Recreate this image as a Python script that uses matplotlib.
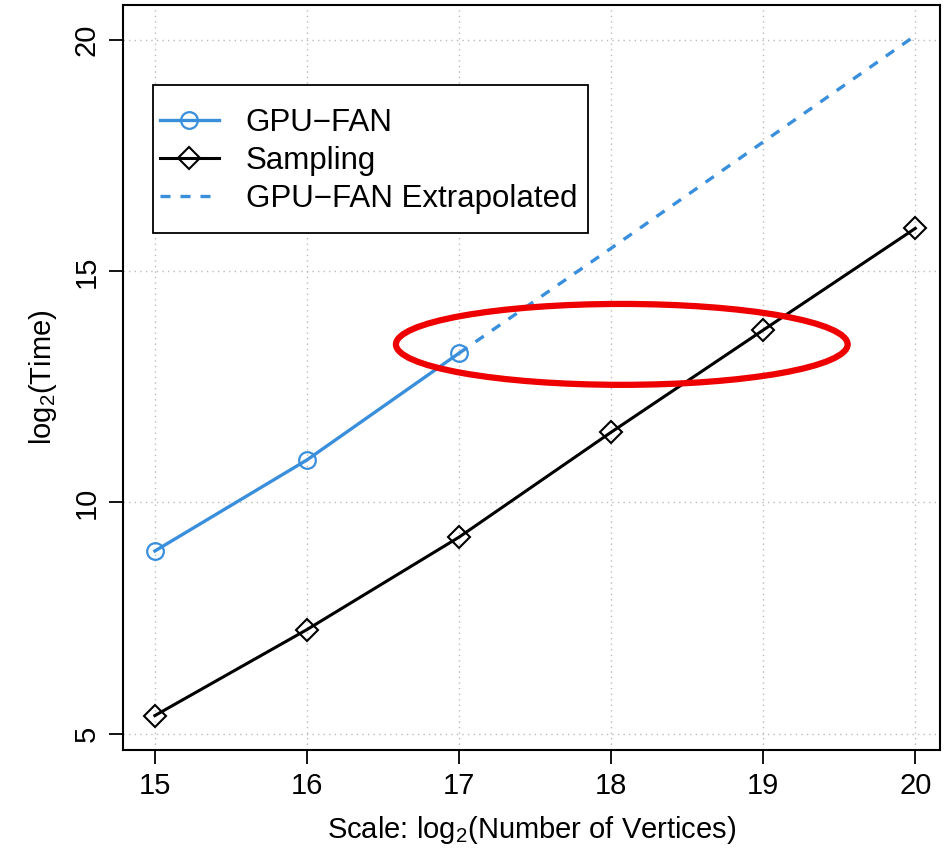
import matplotlib
matplotlib.use('Agg')
import matplotlib.pyplot as plt
from matplotlib.patches import Ellipse, Rectangle

plt.rcParams['font.family'] = ['Liberation Sans', 'DejaVu Sans']
plt.rcParams['mathtext.fontset'] = 'custom'
plt.rcParams['mathtext.rm'] = 'Liberation Sans'
plt.rcParams['mathtext.it'] = 'Liberation Sans'

# 数据
scale = [15, 16, 17, 18, 19, 20]
gpu_fan = [8.95, 10.92, 13.23]
gpu_fan_extra = [13.23, 15.5, 17.8, 20.1]
sampling = [5.39, 7.25, 9.25, 11.52, 13.73, 15.93]

blue = '#3a8fdd'

fig = plt.figure(figsize=(9.53, 8.52), dpi=100)
ax = fig.add_axes([0.129, 0.12, 0.857, 0.874])

ax.plot(scale[:3], gpu_fan, color=blue, lw=2.4, marker='o', ms=12,
        mfc='none', mec=blue, mew=1.6, label='GPU\u2212FAN')
ax.plot(scale, sampling, color='black', lw=2.2, marker='D', ms=11,
        mfc='none', mec='black', mew=1.5, label='Sampling')
ax.plot(scale[2:], gpu_fan_extra, color=blue, lw=2.4, ls=(0, (3, 3)),
        label='GPU\u2212FAN Extrapolated')

# 红色椭圆标注
ax.add_patch(Ellipse((18.07, 13.42), 2.97, 1.75, fill=False,
                     edgecolor='#ee0000', lw=4.5, zorder=5))

ax.set_xlim(14.79, 20.16)
ax.set_ylim(4.65, 20.76)
ax.set_xticks(scale)
ax.set_yticks([5, 10, 15, 20])
ax.grid(True, ls=(0, (1, 3)), color='#bbbbbb', lw=1)
ax.tick_params(labelsize=21, length=10, width=1.3, direction='out', pad=6)
for lab in ax.get_yticklabels():
    lab.set_rotation(90)
    lab.set_va('center')
for s in ax.spines.values():
    s.set_linewidth(1.5)

ax.set_xlabel('Scale: log$_2$(Number of Vertices)', fontsize=21, labelpad=10)
ax.set_ylabel('log$_2$(Time)', fontsize=21, labelpad=10)

# 图例边框（R 风格，留白较多）
ax.add_patch(Rectangle((0.037, 0.694), 0.532, 0.199, transform=ax.transAxes,
                       fill=True, facecolor='white', edgecolor='black', lw=1.3, zorder=6))
leg = ax.legend(loc='center left', bbox_to_anchor=(0.045, 0.791), borderaxespad=0,
                fontsize=22.5, frameon=False, borderpad=0,
                handlelength=1.9, labelspacing=0.25, handletextpad=0.85)
leg.set_zorder(7)

plt.savefig('out.png', dpi=100)
plt.close()
